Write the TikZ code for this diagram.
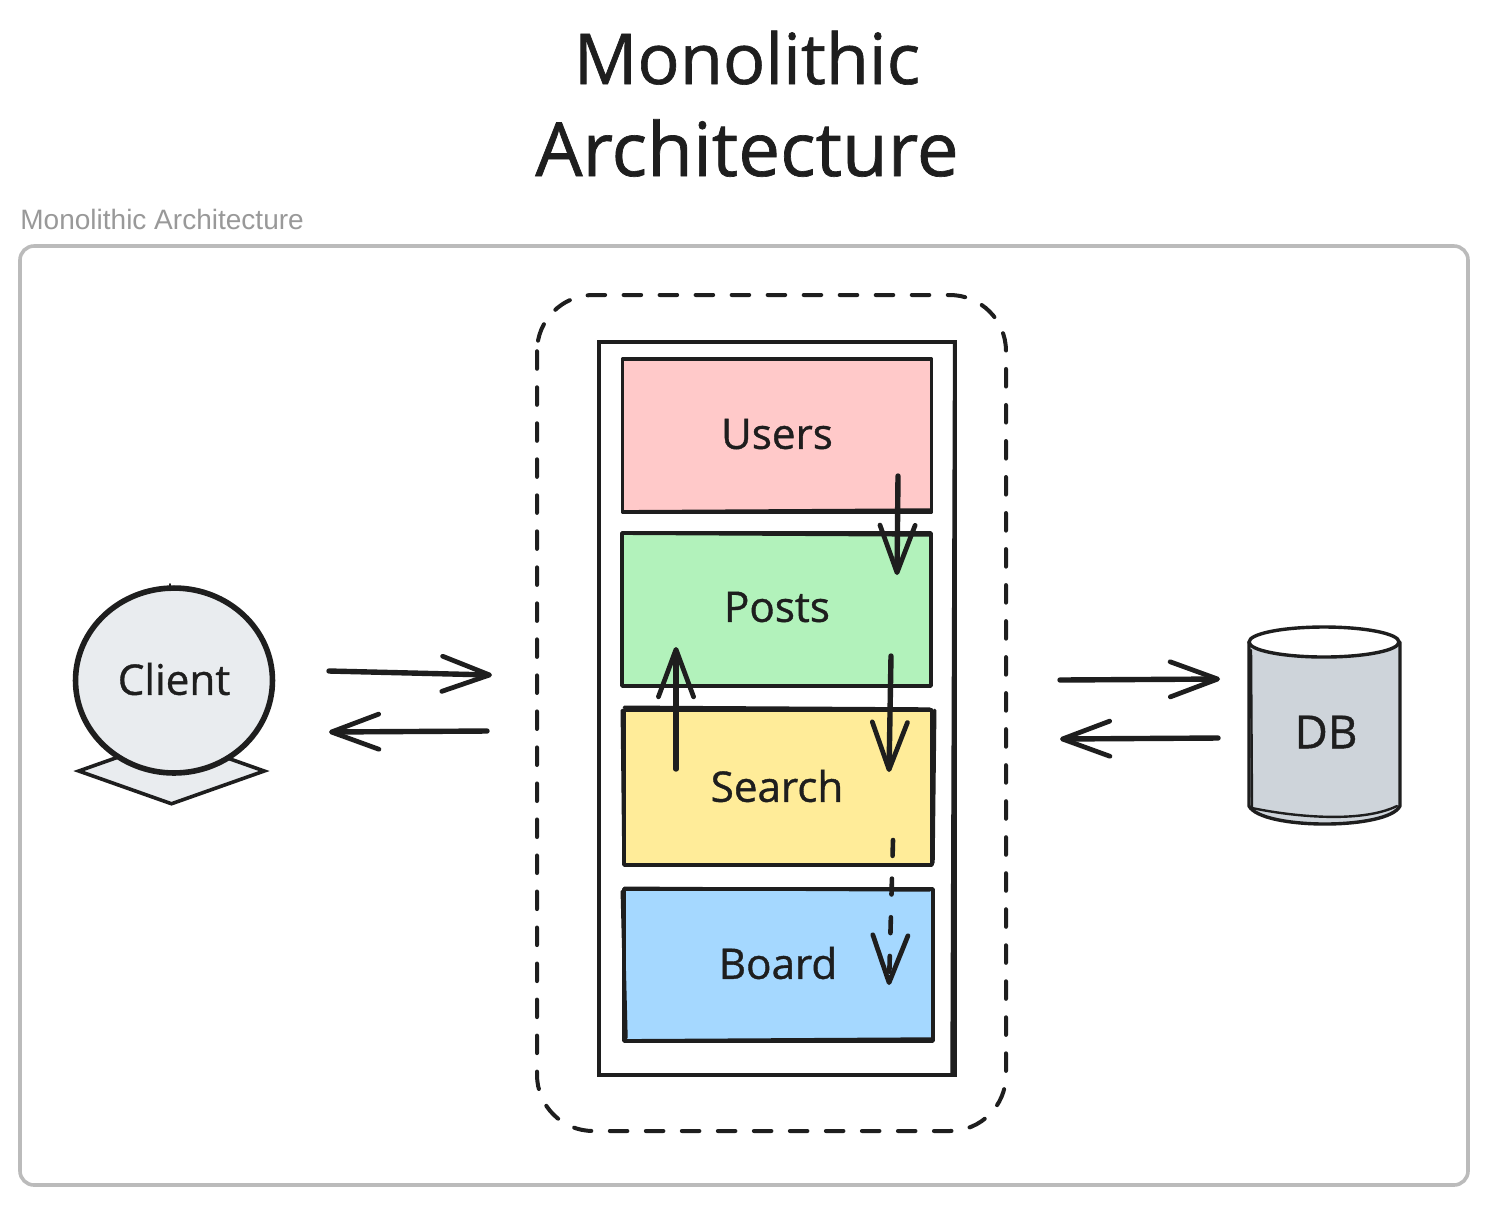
\documentclass[tikz,border=0pt]{standalone}
\usepackage{fontspec}
\setmainfont{Open Sans}
\newfontfamily\hand[FakeBold=0.9]{Open Sans}
\newfontfamily\labelfont{Liberation Sans}
\usetikzlibrary{arrows.meta,shapes.geometric}
\definecolor{ink}{HTML}{1E1E1E}
\definecolor{frame}{HTML}{BBBBBB}
\definecolor{labelgray}{HTML}{999999}
\definecolor{cusers}{HTML}{FFC9C9}
\definecolor{cposts}{HTML}{B2F2BB}
\definecolor{csearch}{HTML}{FFEC99}
\definecolor{cboard}{HTML}{A5D8FF}
\definecolor{cclient}{HTML}{E9ECEF}
\definecolor{cdb}{HTML}{CED4DA}
\def\px{0.569pt}
\tikzset{
  x=0.02cm,y=-0.02cm,
  handtext/.style={font=\hand\fontsize{24pt}{28pt}\selectfont,text=ink},
  modbox/.style={draw=ink,line width=3.6*\px,line join=round,inner sep=0pt,
    minimum width=309*\px,minimum height=153*\px},
  modlabel/.style={handtext,inner sep=0pt},
  titletext/.style={text=ink,inner sep=0pt,anchor=base},
  stroke/.style={draw=ink,line width=3.4*\px,line cap=round,line join=round},
  flow/.style={draw=ink,line width=5.4*\px,line cap=round,line join=round,
    -{Straight Barb[length=27pt,width=20pt,line width=2.7pt,round]}},
  dashflow/.style={flow,line width=4.6*\px,dash pattern=on 9pt off 13pt},
}
\begin{document}
\begin{tikzpicture}
\useasboundingbox (0,0) rectangle (1487,1205);
\fill[white] (0,0) rectangle (1487,1205);

% title and frame
\node[titletext,font=\hand\fontsize{40pt}{48pt}\selectfont] (title1) at (747,84) {Monolithic};
\node[titletext,font=\hand\fontsize{42.5pt}{51pt}\selectfont] (title2) at (747,176) {Architecture};
\node[font=\labelfont\fontsize{15.95pt}{19pt}\selectfont,text=labelgray,anchor=west,inner sep=0pt] (framelabel) at (20,219.5) {Monolithic Architecture};
\draw[frame,line width=3.6*\px,rounded corners=8pt] (20,246) rectangle (1468,1185);

% dashed boundary
\draw[ink,line width=4*\px,line cap=round,dash pattern=on 10pt off 10.5pt,rounded corners=32pt]
  (537,295) rectangle (1006,1131);

% container
\node[draw=ink,line width=3.4*\px,inner sep=0pt,minimum width=356*\px,minimum height=733*\px] (container) at (777,708.5) {};
\draw[stroke] (container.north east) ++(-2,2) -- (952,1073);

% modules
\node[modbox,fill=cusers] (users) at (777,435.5) {};
\node[modbox,fill=cposts] (posts) at (776.5,609.5) {};
\node[modbox,fill=csearch,minimum width=308*\px,minimum height=155*\px] (search) at (778,787.5) {};
\node[modbox,fill=cboard,minimum width=309*\px,minimum height=152*\px] (board) at (778.5,965) {};
\node[modlabel] (userslabel) at (777,434) {Users};
\node[modlabel] (postslabel) at (777,607) {Posts};
\node[modlabel] (searchlabel) at (777,786) {Search};
\node[modlabel] (boardlabel) at (778,963) {Board};
\draw[stroke] (users.south west) ++(2,-2) -- (930,510);
\draw[stroke] (posts.north west) ++(2,2) -- (929,535);
\draw[stroke] (search.north west) ++(2,-1) -- (930,709);
\draw[stroke] (search.north west) ++(0,2) -- (624,863);
\draw[stroke] (search.north east) ++(1,2) -- (933,863);
\draw[stroke] (board.north west) ++(0,4) -- (626,1038);
\draw[stroke] (board.south west) ++(2,-2) -- (931,1039);
\draw[stroke] (board.north west) ++(2,1) -- (930,890);

% client
\node[diamond,draw=ink,fill=cclient,line width=3.6*\px,inner sep=0pt,aspect=2.8,minimum width=187*\px,minimum height=67*\px] (plate) at (171.5,771) {};
\node[ellipse,draw=ink,fill=cclient,line width=5.6*\px,inner sep=0pt,minimum width=197*\px,minimum height=185*\px] (client) at (174,680.5) {};
\node[modlabel] (clientlabel) at (174,679) {Client};
\draw[stroke,line width=2.4*\px] (client.north) ++(-4,-1) -- ++(0,6);

% database
\path[fill=cdb] (1249,642) -- (1249,806) .. controls (1262,830) and (1388,830) .. (1400,806) -- (1400,642) -- cycle;
\node[modlabel,font=\hand\fontsize{26pt}{30pt}\selectfont] (db) at (1326,732) {DB};
\draw[stroke] (1249,642) -- (1249,806) .. controls (1262,830) and (1388,830) .. (1400,806) -- (1400,642);
\draw[stroke,line width=2.4*\px] (1251,650) -- (1252,808) .. controls (1290,816) and (1360,824) .. (1397,806);
\draw[stroke,fill=white] (1324,642) ellipse [x radius=75, y radius=15];

% connector end points
\coordinate (c1a) at (329,671);  \coordinate (c1b) at (492,675);
\coordinate (c2a) at (487,731);  \coordinate (c2b) at (329,732);
\coordinate (d1a) at (1060,680); \coordinate (d1b) at (1220,679);
\coordinate (d2a) at (1218,738); \coordinate (d2b) at (1060,739);
\coordinate (up)  at (898,476);  \coordinate (pt)  at (897,575);
\coordinate (ps)  at (891,656);  \coordinate (st)  at (889,772);
\coordinate (sp)  at (676,769);  \coordinate (ptt) at (676,647);
\coordinate (sb)  at (893,840);  \coordinate (bt)  at (889,985);

\draw[flow] (c1a) -- (c1b);
\draw[flow] (c2a) -- (c2b);
\draw[flow] (d1a) -- (d1b);
\draw[flow] (d2a) -- (d2b);
\draw[flow] (up) -- (pt);
\draw[flow] (ps) -- (st);
\draw[flow] (sp) -- (ptt);
\draw[dashflow] (sb) -- (bt);
\end{tikzpicture}
\end{document}
